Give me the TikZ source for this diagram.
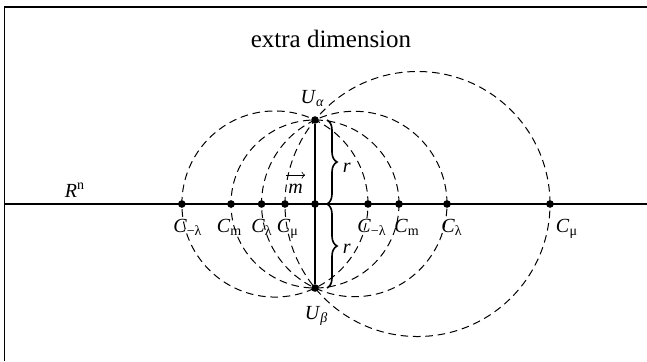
\documentclass[tikz,border=0pt]{standalone}
\usepackage{fontspec}
\setmainfont{Liberation Serif}
\usetikzlibrary{positioning,decorations.pathreplacing}

\begin{document}
\begin{tikzpicture}[x=0.5pt, y=0.5pt,
	dot/.style={circle, fill=black, inner sep=0pt, minimum size=3.8pt},
	lab/.style={inner sep=0pt, font=\fontsize{10}{12}\selectfont},
	circ/.style={line width=0.5pt, dash pattern=on 3.8pt off 2.4pt},
	brc/.style={decorate, decoration={brace, amplitude=5pt}, line width=0.8pt}]
	
	% Khung hình (chỉ cạnh trái và cạnh trên)
	\useasboundingbox (-315,-157) rectangle (332,204);
	\draw[line width=0.6pt] (-310.5,-157) -- (-310.5,197) -- (332,197);
	
	% Trục R^n và tiêu đề
	\draw[line width=0.6pt] (-310.5,0) -- (332,0);
	\node[lab, anchor=base] at (-240,7) {\textit{R}\textsuperscript{n}};
	\node[anchor=base, inner sep=0pt, font=\fontsize{12.5}{15}\selectfont] at (16,157) {extra dimension};
	
	% Các điểm U_alpha, U_beta và điểm giữa
	\node[dot] (o) at (0,0) {};
	\node[dot] (ua) at (0,84) {};
	\node[dot] (ub) at (0,-84) {};
	\draw[line width=0.6pt] (ua) -- (ub);
	\node[lab, above=4.2pt of ua, xshift=-1.2pt] {\textit{U}\textsubscript{\textit{α}}};
	\node[lab, below=6.7pt of ub, xshift=0.8pt] {\textit{U}\textsubscript{\textit{β}}};
	
	% Vectơ m
	\node[lab, anchor=base] (m) at (-19.5,11) {\textit{m}};
	\draw[->, line width=0.4pt] ([shift={(-1pt,4pt)}]m.north west) -- ([shift={(1pt,4pt)}]m.north east);
	
	% Các đường tròn đi qua U_alpha và U_beta (cặp điểm nghịch đảo, r^2 = 84^2)
	\foreach \a/\sub/\sl/\sr [count=\i] in {53/{−λ}/6/4, 84/m/-1.5/8, 132/λ/0.5/5, 235/μ/3/17} {
		\pgfmathsetmacro{\b}{-7056/\a}
		\pgfmathsetmacro{\c}{(\a+\b)/2}
		\pgfmathsetmacro{\R}{(\a-\b)/2}
		\draw[circ] (\c,0) circle (\R);
		\node[dot] (cl\i) at (\b,0) {};
		\node[dot] (cr\i) at (\a,0) {};
		\node[lab, below=5.2pt of cl\i, xshift=\sl*0.5pt] {\textit{C}\textsubscript{\sub}};
		\node[lab, below=5.2pt of cr\i, xshift=\sr*0.5pt] {\textit{C}\textsubscript{\sub}};
	}
	
	% Dấu ngoặc r
	\draw[brc] ([xshift=6pt]ua.center) -- ([xshift=6pt]o.center)
		node[lab, midway, right=7.5pt, yshift=-2.75pt] {\textit{r}};
	\draw[brc] ([xshift=6pt]o.center) -- ([xshift=6pt]ub.center)
		node[lab, midway, right=7.5pt, yshift=-1.25pt] {\textit{r}};
	
\end{tikzpicture}
\end{document}
